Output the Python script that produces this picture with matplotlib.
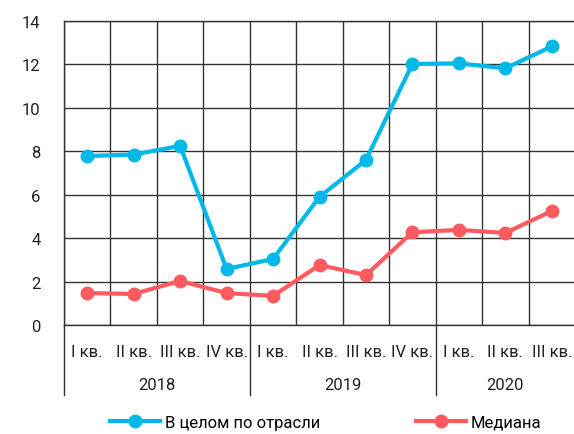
import numpy as np
import matplotlib.pyplot as plt

plt.rcParams['font.family'] = ['Roboto', 'DejaVu Sans']

# данные по кварталам
quarters = ["I кв.", "II кв.", "III кв.", "IV кв.",
            "I кв.", "II кв.", "III кв.", "IV кв.",
            "I кв.", "II кв.", "III кв."]
years = ["2018", "2019", "2020"]
year_sizes = [4, 4, 3]
industry = [7.78, 7.85, 8.25, 2.58, 3.04, 5.9, 7.6, 12.02, 12.05, 11.82, 12.83]
median = [1.47, 1.43, 2.03, 1.47, 1.34, 2.76, 2.3, 4.27, 4.38, 4.24, 5.25]

blue = '#00B9E8'
red = '#FF5A5F'
grid_c = '#333333'
txt_c = '#222222'
fs = 12

fig = plt.figure(figsize=(5.74, 4.35), dpi=100)
ax = fig.add_axes([64/574, 109/435, 511/574, 304/435])

x = np.arange(len(quarters))
ax.plot(x, industry, color=blue, lw=3, marker='o', ms=9, zorder=3,
        label="В целом по отрасли")
ax.plot(x, median, color=red, lw=3, marker='o', ms=9, zorder=3,
        label="Медиана")

ax.set_xlim(-0.5, len(quarters) - 0.5)
ax.set_ylim(0, 14)
ax.set_yticks(np.arange(0, 15, 2))
ax.set_xticks(x)
ax.set_xticklabels(quarters, fontsize=fs, color=txt_c)
ax.set_xticks(np.arange(-0.5, len(quarters), 1), minor=True)
ax.tick_params(axis='x', which='both', length=0, pad=14)
ax.tick_params(axis='y', length=0, pad=17, labelsize=fs, labelcolor=txt_c)

ax.grid(True, axis='y', color=grid_c, lw=1)
ax.grid(True, axis='x', which='minor', color=grid_c, lw=1)
ax.grid(False, axis='x', which='major')
for s in ax.spines.values():
    s.set_color(grid_c)
    s.set_linewidth(1)

# подписи годов и разделители
trans = ax.get_xaxis_transform()
start = -0.5
for yr, n in zip(years, year_sizes):
    ax.plot([start, start], [0, -0.23], transform=trans, color=grid_c,
            lw=1, clip_on=False)
    ax.text(start + n / 2, -0.195, yr, transform=trans, ha='center',
            va='center', fontsize=fs, color=txt_c)
    start += n
ax.plot([start, start], [0, -0.23], transform=trans, color=grid_c,
        lw=1, clip_on=False)

fig.legend(loc='lower center', bbox_to_anchor=(0.5675, -0.025), ncol=2,
           frameon=False, fontsize=fs, handlelength=3.0, columnspacing=5.7,
           handletextpad=0.3)

fig.savefig('out.png', dpi=100)
